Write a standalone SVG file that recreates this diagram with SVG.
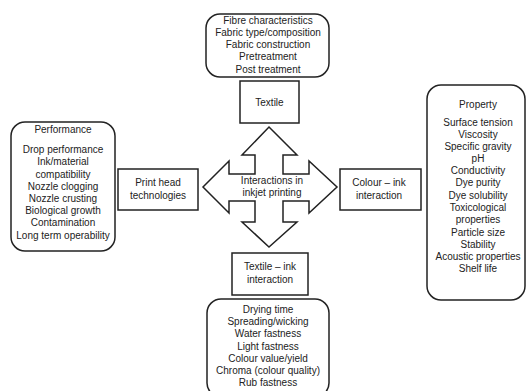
<svg xmlns="http://www.w3.org/2000/svg" width="526" height="391" viewBox="0 0 526 391">
<style>
.bg{fill:#fff}
.rbox{fill:#fff;stroke:#222;stroke-width:1.5}
.box{fill:#fff;stroke:#222;stroke-width:1.5}
text{font-family:"Liberation Sans",Arial,sans-serif;font-size:10px;fill:#222;text-anchor:middle}
</style>
<rect class="bg" width="526" height="391"/>
<g id="connectors">
<path class="box" d="M269,127 L297,155 L283,155 L283,174 L309,174 L309,161 L337,187 L309,213 L309,201 L283,201 L283,222 L297,222 L269,247 L242,222 L255,222 L255,201 L229,201 L229,213 L203,187 L229,161 L229,174 L255,174 L255,155 L242,155 Z"/>
</g>
<g id="center">
<text x="272" y="184">Interactions in</text>
<text x="272" y="196">inkjet printing</text>
</g>
<g id="fabric-list">
<rect class="rbox" x="206" y="14" width="123" height="63" rx="14"/>
<text x="268" y="24">Fibre characteristics</text>
<text x="268" y="36">Fabric type/composition</text>
<text x="268" y="48">Fabric construction</text>
<text x="268" y="60">Pretreatment</text>
<text x="268" y="73">Post treatment</text>
</g>
<g id="textile">
<rect class="box" x="240" y="81" width="59" height="42"/>
<text x="269.5" y="106">Textile</text>
</g>
<g id="print-head">
<rect class="box" x="118" y="169" width="80" height="41"/>
<text x="158" y="186">Print head</text>
<text x="158" y="199">technologies</text>
</g>
<g id="colour-ink">
<rect class="box" x="340" y="169" width="81" height="41"/>
<text x="379" y="186">Colour – ink</text>
<text x="379" y="199">interaction</text>
</g>
<g id="textile-ink">
<rect class="box" x="232" y="253" width="76" height="42"/>
<text x="270" y="270">Textile – ink</text>
<text x="270" y="283">interaction</text>
</g>
<g id="performance">
<rect class="rbox" x="11" y="122" width="104" height="129" rx="14"/>
<text x="63" y="133">Performance</text>
<text x="63" y="153">Drop performance</text>
<text x="63" y="165">Ink/material</text>
<text x="63" y="178">compatibility</text>
<text x="63" y="190">Nozzle clogging</text>
<text x="63" y="202">Nozzle crusting</text>
<text x="63" y="214">Biological growth</text>
<text x="63" y="226">Contamination</text>
<text x="63" y="239">Long term operability</text>
</g>
<g id="property">
<rect class="rbox" x="427" y="85" width="98" height="215" rx="14"/>
<text x="478" y="108">Property</text>
<text x="478" y="126">Surface tension</text>
<text x="478" y="138">Viscosity</text>
<text x="478" y="150">Specific gravity</text>
<text x="478" y="162">pH</text>
<text x="478" y="174">Conductivity</text>
<text x="478" y="186">Dye purity</text>
<text x="478" y="199">Dye solubility</text>
<text x="478" y="211">Toxicological</text>
<text x="478" y="223">properties</text>
<text x="478" y="236">Particle size</text>
<text x="478" y="248">Stability</text>
<text x="478" y="260">Acoustic properties</text>
<text x="478" y="272">Shelf life</text>
</g>
<g id="textile-ink-list">
<rect class="rbox" x="207" y="299" width="122" height="98" rx="14"/>
<text x="268" y="313">Drying time</text>
<text x="268" y="325">Spreading/wicking</text>
<text x="268" y="337">Water fastness</text>
<text x="268" y="350">Light fastness</text>
<text x="268" y="362">Colour value/yield</text>
<text x="268" y="374">Chroma (colour quality)</text>
<text x="268" y="386">Rub fastness</text>
</g>
</svg>
